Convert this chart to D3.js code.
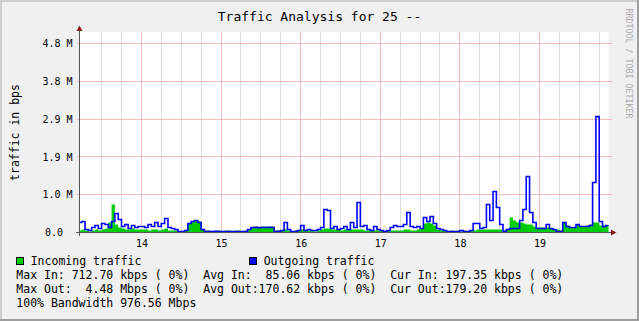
<!DOCTYPE html>
<html>
<head>
<meta charset="utf-8">
<script src="https://cdn.jsdelivr.net/npm/d3@7"></script>
<style>
  html, body { margin: 0; padding: 0; background: #fff; }
  svg text { font-family: "DejaVu Sans Mono", monospace; }
</style>
</head>
<body>
<div id="chart"></div>
<script>
// hourly averages in kbps, first sample on the 13th at 05:00
const startDay = 13,
  startHour = 5;
const incoming = [
  51, 76, 51, 25, 51, 76, 51, 76, 101, 254, 712, 203, 127, 101, 76, 76, 101, 76, 76,
  76, 76, 51, 76, 76, 51, 76, 101, 51, 51, 51, 25, 25, 51, 228, 279, 304, 279, 76, 51,
  51, 25, 51, 48, 25, 51, 53, 25, 51, 49, 25, 51,
  76, 127, 152, 127, 152, 152, 127, 152, 51, 51, 51, 76, 51, 25, 51, 51, 76, 51, 51, 51, 25, 51,
  76, 101, 101, 76, 76, 76, 51, 76, 76, 76, 76, 76, 76, 51, 51, 51, 51, 51,
  51, 25, 51, 51, 51, 51, 51, 76, 76, 51, 51, 76, 101, 228, 254, 228, 178, 76, 51, 51,
  25, 51, 25, 51, 25, 51, 25, 51, 51, 76, 76, 76, 76, 76, 76, 76, 76, 51, 76,
  380, 304, 254, 254, 228, 203, 203, 152, 127, 127, 127, 127, 101, 76, 76, 51, 254, 178, 127, 127,
  203, 152, 152, 178, 203, 254, 254, 178, 178, 178
];
const outgoing = [
  254, 279, 76, 51, 127, 178, 101, 228, 203, 127, 279, 482, 330, 152, 203, 101, 178, 127, 152,
  152, 127, 203, 152, 254, 152, 228, 355, 127, 101, 76, 25, 25, 51, 228, 279, 304, 254, 76, 25,
  25, 22, 28, 25, 24, 26, 25, 23, 27, 25, 24, 26,
  76, 127, 130, 125, 128, 127, 131, 126, 25, 28, 51, 254, 76, 25, 27, 51, 178, 51, 76, 51, 51, 76,
  127, 583, 558, 101, 152, 76, 101, 152, 76, 254, 127, 761, 152, 178, 76, 51, 152, 76,
  51, 25, 51, 127, 178, 152, 152, 203, 507, 152, 127, 152, 101, 380, 279, 406, 228, 101, 76, 51,
  25, 25, 25, 25, 51, 25, 25, 51, 228, 228, 101, 127, 710, 304, 1040, 634, 203, 25, 76,
  101, 101, 101, 304, 583, 1420, 507, 254, 101, 101, 101, 203, 101, 76, 25, 25, 254, 152, 127, 127,
  203, 152, 152, 152, 178, 1268, 2942, 279, 152, 178
];
const yTickValues = [0, 960, 1920, 2880, 3840, 4800];
const yTickLabels = ["0.0", "1.0 M", "1.9 M", "2.9 M", "3.8 M", "4.8 M"];
const dayTicks = [14, 15, 16, 17, 18, 19];
const legendNames = ["Incoming traffic", "Outgoing traffic"];
const statLines = [
  "Max In: 712.70 kbps ( 0%)  Avg In:  85.06 kbps ( 0%)  Cur In: 197.35 kbps ( 0%)",
  "Max Out:  4.48 Mbps ( 0%)  Avg Out:170.62 kbps ( 0%)  Cur Out:179.20 kbps ( 0%)",
  "100% Bandwidth 976.56 Mbps"
];

const inColor = "#00cc00",
  outColor = "#0000ff";
const W = 639,
  H = 321;
const plot = { left: 79.5, right: 608.5, top: 32, bottom: 232.5 };

const day = (d, h = 0, m = 0) => new Date(Date.UTC(2021, 0, d, h, m));
const hourMs = 3600 * 1000;

const rows = incoming.map((v, i) => ({
  t: new Date(day(startDay, startHour).getTime() + i * hourMs),
  inp: v,
  out: outgoing[i],
}));
// step charts need one more point to close the last step
rows.push({
  t: new Date(rows[rows.length - 1].t.getTime() + hourMs),
  inp: incoming[incoming.length - 1],
  out: outgoing[outgoing.length - 1],
});

const x = d3
  .scaleUtc()
  .domain([day(13, 5, 20), day(19, 20, 48)])
  .range([plot.left, plot.right]);
const y = d3.scaleLinear().domain([0, 5090]).range([plot.bottom, plot.top]);
const snap = (v) => Math.round(v - 0.5) + 0.5;

const svg = d3
  .select("#chart")
  .append("svg")
  .attr("width", W)
  .attr("height", H);

// background and shaded frame
svg.append("rect").attr("width", W).attr("height", H).attr("fill", "#f0f0f0");
svg.append("rect").attr("width", W).attr("height", 2).attr("fill", "#cfcfcf");
svg.append("rect").attr("width", 2).attr("height", H).attr("fill", "#cfcfcf");
svg.append("rect").attr("x", W - 2).attr("width", 2).attr("height", H).attr("fill", "#9e9e9e");
svg.append("rect").attr("y", H - 2).attr("width", W).attr("height", 2).attr("fill", "#9e9e9e");

// canvas
svg
  .append("rect")
  .attr("x", 80)
  .attr("y", plot.top)
  .attr("width", plot.right - 80)
  .attr("height", plot.bottom - plot.top)
  .attr("fill", "#fff");

svg
  .append("defs")
  .append("clipPath")
  .attr("id", "clip")
  .append("rect")
  .attr("x", 80)
  .attr("y", plot.top)
  .attr("width", plot.right - 80)
  .attr("height", plot.bottom - plot.top + 0.5);

// minor grid every 6 hours
const dayDates = dayTicks.map((d) => day(d));
const minor = d3.utcHour
  .every(6)
  .range(x.domain()[0], x.domain()[1])
  .filter((t) => t.getUTCHours() != 0 && x(t) > plot.left + 3);

svg
  .append("g")
  .selectAll("line")
  .data(minor)
  .enter()
  .append("line")
  .attr("x1", (d) => snap(x(d)))
  .attr("x2", (d) => snap(x(d)))
  .attr("y1", plot.top)
  .attr("y2", plot.bottom)
  .attr("stroke", "#dedede");

// major grid
svg
  .append("g")
  .selectAll("line")
  .data(dayDates)
  .enter()
  .append("line")
  .attr("x1", (d) => snap(x(d)))
  .attr("x2", (d) => snap(x(d)))
  .attr("y1", plot.top)
  .attr("y2", plot.bottom)
  .attr("stroke", "#f4bcbc");

svg
  .append("g")
  .selectAll("line")
  .data(yTickValues.slice(1))
  .enter()
  .append("line")
  .attr("x1", 77)
  .attr("x2", 612)
  .attr("y1", (d) => snap(y(d)))
  .attr("y2", (d) => snap(y(d)))
  .attr("stroke", "#f4bcbc");

// traffic
const g = svg.append("g").attr("clip-path", "url(#clip)");

g.append("path")
  .datum(rows)
  .attr("fill", inColor)
  .attr(
    "d",
    d3
      .area()
      .curve(d3.curveStepAfter)
      .x((d) => x(d.t))
      .y0(y(0))
      .y1((d) => y(d.inp))
  );

g.append("path")
  .datum(rows)
  .attr("fill", "none")
  .attr("stroke", outColor)
  .attr("stroke-width", 1.6)
  .attr(
    "d",
    d3
      .line()
      .curve(d3.curveStepAfter)
      .x((d) => x(d.t))
      .y((d) => y(d.out))
  );

// axes lines + arrows
const axisColor = "#555",
  arrowColor = "#8b1a1a";
svg
  .append("line")
  .attr("x1", 76)
  .attr("x2", 612)
  .attr("y1", plot.bottom)
  .attr("y2", plot.bottom)
  .attr("stroke", axisColor);
svg
  .append("line")
  .attr("x1", plot.left)
  .attr("x2", plot.left)
  .attr("y1", 236)
  .attr("y2", 30)
  .attr("stroke", axisColor);
svg
  .append("path")
  .attr("d", "M76.5,31L79.5,25.5L82.5,31Z")
  .attr("fill", arrowColor);
svg
  .append("path")
  .attr("d", "M611,229.5L616.5,232.5L611,235.5Z")
  .attr("fill", arrowColor);

// y labels
const yAxis = svg
  .append("g")
  .attr("transform", "translate(" + plot.left + ",0)")
  .call(
    d3
      .axisLeft(y)
      .tickValues(yTickValues)
      .tickFormat((d, i) => yTickLabels[i])
      .tickSize(0)
      .tickPadding(7)
  );
yAxis.select(".domain").remove();
yAxis
  .selectAll("text")
  .attr("font-size", 10)
  .attr("font-family", "DejaVu Sans Mono")
  .attr("fill", "#000")
  .attr("dx", (d) => (d == 0 ? -9.5 : 0));

// x labels
const xAxis = svg
  .append("g")
  .attr("transform", "translate(0," + plot.bottom + ")")
  .call(
    d3
      .axisBottom(x)
      .tickValues(dayDates)
      .tickFormat((d, i) => dayTicks[i])
      .tickSize(0)
      .tickPadding(7.4)
  );
xAxis.select(".domain").remove();
xAxis
  .selectAll("text")
  .attr("font-size", 10)
  .attr("font-family", "DejaVu Sans Mono")
  .attr("fill", "#000");

// title and y label
svg
  .append("text")
  .attr("x", 319.5)
  .attr("y", 20.5)
  .attr("text-anchor", "middle")
  .attr("font-size", 13)
  .text("Traffic Analysis for 25 --");

svg
  .append("text")
  .attr("transform", "translate(19,132.5)rotate(-90)")
  .attr("text-anchor", "middle")
  .attr("font-size", 11.5)
  .text("traffic in bps");

svg
  .append("text")
  .attr("transform", "translate(626,8.5)rotate(90)")
  .attr("font-size", 8.3)
  .attr("fill", "#aaa")
  .text("RRDTOOL / TOBI OETIKER");

// legend
const legendX = [16.5, 249.5];
legendNames.forEach((name, i) => {
  svg
    .append("rect")
    .attr("x", legendX[i])
    .attr("y", 257.5)
    .attr("width", 7)
    .attr("height", 7)
    .attr("fill", i == 0 ? inColor : outColor)
    .attr("stroke", "#000");
  svg
    .append("text")
    .attr("x", legendX[i] + 14.2)
    .attr("y", 264.5)
    .attr("font-size", 11.5)
    .text(name);
});

svg
  .selectAll(".stat")
  .data(statLines)
  .enter()
  .append("text")
  .attr("class", "stat")
  .attr("x", 16.3)
  .attr("y", (d, i) => 278.5 + i * 14)
  .attr("font-size", 11.5)
  .style("white-space", "pre")
  .text((d) => d);
</script>
</body>
</html>
